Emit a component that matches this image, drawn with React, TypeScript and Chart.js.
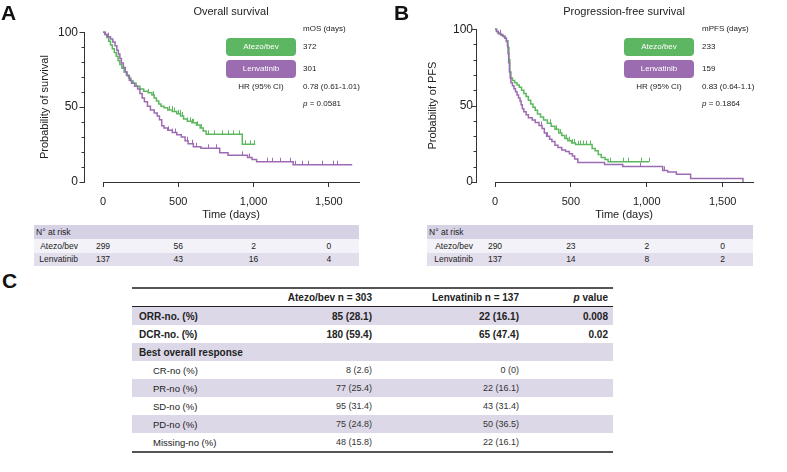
import React, { useEffect, useRef, useState } from "react";
import { Chart, registerables } from "chart.js";
Chart.register(...registerables);

const FONT = '"Liberation Sans", Arial, Helvetica, sans-serif';
const GREEN = "#5CB85E";
const PURPLE = "#9C6BB2";
const BOX_GREEN = "#5DB662";
const BOX_PURPLE = "#9B6DB0";
const LAV = "#DDD8E8";

const xTicks = [0, 500, 1000, 1500];
const yTicks = [0, 50, 100];
const yMinorTicks = [0, 10, 20, 30, 40, 50, 60, 70, 80, 90, 100];
const riskTimes = [0, 500, 1000, 1500];

// ---- Overall survival (time in days, survival %) ----
const osAtezoSteps = [
  [0, 100], [12, 98.5], [25, 96.5], [38, 94], [50, 91.5], [62, 89], [75, 86.5], [88, 84], [100, 81],
  [112, 78.5], [125, 76], [140, 73.5], [155, 71.5], [170, 69.5], [185, 67.5], [200, 66], [220, 64],
  [245, 62], [270, 60.5], [300, 59.5], [325, 58], [340, 56], [355, 54], [370, 52], [385, 50.5],
  [405, 49.5], [430, 48], [460, 47], [490, 45.5], [515, 44], [535, 42], [560, 40.5], [590, 39.5],
  [620, 38], [645, 36], [665, 34], [685, 31.8], [925, 25.2], [1011, 25.2],
];
const osAtezoCensor = [300, 330, 440, 455, 470, 500, 510, 525, 560, 575, 590, 600, 625, 650, 700, 740, 790, 830, 860, 900, 945, 975, 1005];
const osLenvaSteps = [
  [0, 100], [15, 98.5], [30, 97], [50, 95.5], [65, 93.5], [80, 91], [92, 88], [102, 85.5], [112, 82.5],
  [122, 79.5], [135, 76.5], [148, 73.5], [160, 71], [175, 68], [190, 66], [210, 64], [230, 62],
  [245, 59], [260, 56], [275, 53.5], [295, 50.5], [315, 48], [340, 46], [360, 44], [375, 41.5],
  [390, 37.5], [405, 36], [430, 34.5], [460, 33], [490, 31.5], [520, 30], [545, 27.5], [565, 25.5],
  [600, 23.5], [650, 22.5], [775, 19.5], [830, 17.8], [960, 16.4], [990, 15], [1020, 13.5],
  [1263, 11.5], [1655, 11.5],
];
const osLenvaCensor = [35, 430, 460, 480, 560, 590, 620, 700, 750, 920, 970, 1087, 1120, 1175, 1241, 1275, 1320, 1362, 1453, 1529, 1553];
const osRiskAtezo = [299, 56, 2, 0];
const osRiskLenva = [137, 43, 16, 4];

// ---- Progression-free survival ----
const pfsAtezoSteps = [
  [0, 100], [10, 98.5], [20, 97.5], [35, 96.5], [50, 95.5], [65, 94], [75, 92.5], [85, 88], [92, 80],
  [98, 72], [105, 68], [115, 66.5], [130, 65], [145, 63.5], [160, 62], [175, 60], [190, 58],
  [205, 56], [220, 53.5], [235, 51], [250, 49], [265, 47], [280, 44.5], [300, 42.5], [320, 40.5],
  [345, 38.5], [370, 36.5], [395, 34.5], [420, 32], [440, 30.5], [460, 28.5], [480, 27], [505, 25.5],
  [530, 24.5], [640, 22], [660, 20.5], [680, 18], [700, 16], [725, 14.8], [745, 13.3], [1015, 13.3],
];
const pfsAtezoCensor = [360, 400, 430, 470, 490, 510, 520, 545, 560, 580, 600, 625, 760, 842, 875, 965, 1015];
const pfsLenvaSteps = [
  [0, 100], [10, 98.5], [22, 97], [40, 96], [55, 95], [66, 94], [75, 92], [82, 89], [86, 84], [90, 78],
  [95, 72], [100, 68], [105, 65], [115, 63], [125, 61], [135, 59], [145, 57], [155, 55], [165, 53],
  [172, 50.5], [180, 48], [190, 46], [205, 44], [220, 42], [245, 40.5], [265, 39], [290, 37],
  [310, 35], [325, 32], [340, 30], [360, 28], [375, 26.5], [395, 24], [415, 22.5], [440, 21],
  [465, 20], [490, 18.5], [510, 17], [525, 15], [546, 12.8], [722, 11.4], [842, 10.1], [1105, 7.6],
  [1138, 6.5], [1195, 5.1], [1289, 2.3], [1634, 0],
];
const pfsLenvaCensor = [30, 300, 340, 958, 1112];
const pfsRiskAtezo = [290, 23, 2, 0];
const pfsRiskLenva = [137, 14, 8, 2];

// ---- Response table ----
const respLabels = ["CR-no (%)", "PR-no (%)", "SD-no (%)", "PD-no (%)", "Missing-no (%)"];
const respAtezoN = [8, 77, 95, 75, 48];
const respAtezoPct = ["2.6", "25.4", "31.4", "24.8", "15.8"];
const respLenvaN = [0, 22, 43, 50, 22];
const respLenvaPct = ["0", "16.1", "31.4", "36.5", "16.1"];
const summaryLabels = ["ORR-no. (%)", "DCR-no. (%)"];
const summaryAtezo = ["85 (28.1)", "180 (59.4)"];
const summaryLenva = ["22 (16.1)", "65 (47.4)"];
const summaryP = ["0.008", "0.02"];

function survAt(steps: number[][], t: number) {
  let s = steps[0][1];
  for (const [tt, ss] of steps) {
    if (tt <= t) s = ss;
    else break;
  }
  return s;
}

const kmPlugin = {
  id: "kmDecor",
  afterDatasetsDraw(chart: any) {
    const { ctx, scales, chartArea } = chart;
    const x = scales.x, y = scales.y;
    ctx.save();
    chart.data.datasets.forEach((ds: any) => {
      ctx.strokeStyle = ds.borderColor;
      ctx.lineWidth = 1;
      ctx.beginPath();
      (ds.censor || []).forEach((t: number) => {
        const px = Math.round(x.getPixelForValue(t)) + 0.5;
        const py = y.getPixelForValue(survAt(ds.steps, t));
        ctx.moveTo(px, py);
        ctx.lineTo(px, py - 4);
      });
      ctx.stroke();
    });
    const ax = Math.round(chartArea.left - 19) + 0.5;
    ctx.strokeStyle = "#333";
    ctx.lineWidth = 1;
    ctx.beginPath();
    ctx.moveTo(ax, Math.round(y.getPixelForValue(100)));
    ctx.lineTo(ax, Math.round(y.getPixelForValue(0)) + 1);
    yMinorTicks.forEach((v) => {
      const py = Math.round(y.getPixelForValue(v)) + 0.5;
      const len = v % 50 === 0 ? 5 : 3;
      ctx.moveTo(ax - len, py);
      ctx.lineTo(ax, py);
    });
    ctx.stroke();
    ctx.restore();
  },
};

type Series = { label: string; color: string; box: string; steps: number[][]; censor: number[]; risk: number[]; median: string };
type PanelProps = {
  left: number; title: string; yTitle: string; yTitleX: number; chartLeft: number; chartRight: number;
  series: Series[]; medHeader: string; hr: string; p: string; boxLeft: number; textLeft: number;
  tableLeft: number; tableRight: number;
};

const CW = 392, CH = 222;

function KMPanel(props: PanelProps) {
  const ref = useRef<HTMLCanvasElement>(null);
  const [cols, setCols] = useState<number[]>([]);
  useEffect(() => {
    const chart = new Chart(ref.current as HTMLCanvasElement, {
      type: "line",
      data: {
        datasets: props.series.slice().reverse().map((s) => ({
          label: s.label,
          data: s.steps.map(([x, y]) => ({ x, y })),
          steps: s.steps,
          censor: s.censor,
          borderColor: s.color,
          borderWidth: 1.5,
          pointRadius: 0,
          stepped: "before",
          fill: false,
          clip: false,
        })) as any,
      },
      options: {
        responsive: false,
        animation: false,
        layout: { padding: { top: 24, right: CW - props.chartRight, left: 0, bottom: 0 } },
        plugins: { legend: { display: false }, tooltip: { enabled: false }, title: { display: false } },
        scales: {
          x: {
            type: "linear",
            min: 0,
            max: 1700,
            afterBuildTicks: (s: any) => { s.ticks = xTicks.map((v) => ({ value: v })); },
            afterFit: (s: any) => { s.height = 40; },
            border: { display: true, color: "#333", width: 1 },
            grid: { drawOnChartArea: false, drawTicks: true, tickLength: 5, color: "#333" },
            ticks: {
              font: { family: FONT, size: 11 }, color: "#222", padding: 8, maxRotation: 0,
              callback: (v: any) => Number(v).toLocaleString("en-US"),
            },
            title: { display: true, text: "Time (days)", font: { family: FONT, size: 11 }, color: "#222", padding: { top: 0, bottom: 0 } },
          },
          y: {
            min: 0,
            max: 100,
            afterBuildTicks: (s: any) => { s.ticks = yTicks.map((v) => ({ value: v })); },
            afterFit: (s: any) => { s.width = props.chartLeft; },
            border: { display: false },
            grid: { display: false, drawTicks: false },
            ticks: { font: { family: FONT, size: 12 }, color: "#222", padding: props.chartLeft - 78, callback: (v: any) => String(v) },
            title: { display: true, text: props.yTitle, font: { family: FONT, size: 11 }, color: "#222", padding: { top: props.yTitleX - 6.6, bottom: 0 } },
          },
        },
      } as any,
      plugins: [kmPlugin],
    });
    const xs = chart.scales.x;
    setCols(riskTimes.map((t) => xs.getPixelForValue(t)));
    return () => chart.destroy();
  }, []);

  const txt = (top: number, left: number, content: any, extra: any = {}) => (
    <div style={{ position: "absolute", top: top - 6, left, height: 12, lineHeight: "12px", fontSize: 8, whiteSpace: "nowrap", color: "#222", ...extra }}>{content}</div>
  );
  const boxW = 70;
  const tblW = props.tableRight - props.tableLeft;
  const rowTops = [225, 239, 253];
  const rowHs = [14, 14, 13];
  const rowBgs = ["#D6D1E5", "#F3F2F8", "#E2DEEC"];

  return (
    <div style={{ position: "absolute", left: props.left, top: 0, width: CW, height: 270 }}>
      <canvas ref={ref} width={CW} height={CH} style={{ position: "absolute", left: 0, top: 0, width: CW, height: CH, display: "block" }} />
      <div style={{ position: "absolute", top: 4, left: props.chartLeft, width: props.chartRight - props.chartLeft, textAlign: "center", fontSize: 11, lineHeight: "14px", color: "#222" }}>{props.title}</div>
      {txt(29, props.textLeft, props.medHeader)}
      {props.series.map((s, i) => (
        <React.Fragment key={s.label}>
          <div style={{ position: "absolute", left: props.boxLeft, top: 38 + i * 22, width: boxW, height: 17.5, borderRadius: 4, background: s.box, color: "#fff", fontSize: 8, lineHeight: "17.5px", textAlign: "center" }}>{s.label}</div>
          {txt(46.5 + i * 22, props.textLeft, s.median)}
        </React.Fragment>
      ))}
      {txt(87, props.boxLeft, "HR (95% CI)", { width: boxW, textAlign: "center" })}
      {txt(87, props.textLeft, props.hr)}
      {txt(103.5, props.textLeft, <span><i>p</i> = {props.p}</span>)}
      {rowTops.map((t, r) => (
        <div key={r} style={{ position: "absolute", left: props.tableLeft, top: t, width: tblW, height: rowHs[r], background: rowBgs[r] }} />
      ))}
      <div style={{ position: "absolute", left: props.tableLeft + 2, top: rowTops[0], height: rowHs[0], lineHeight: rowHs[0] + "px", fontSize: 8.5, color: "#222" }}>N° at risk</div>
      {props.series.map((s, i) => (
        <React.Fragment key={"r" + s.label}>
          <div style={{ position: "absolute", right: CW - 78, top: rowTops[i + 1], height: rowHs[i + 1], lineHeight: rowHs[i + 1] + "px", fontSize: 8.5, color: "#222", whiteSpace: "nowrap" }}>{s.label}</div>
          {cols.map((cx, j) => (
            <div key={j} style={{ position: "absolute", left: cx - 20, width: 40, textAlign: "center", top: rowTops[i + 1], height: rowHs[i + 1], lineHeight: rowHs[i + 1] + "px", fontSize: 8.5, color: "#222" }}>{s.risk[j]}</div>
          ))}
        </React.Fragment>
      ))}
    </div>
  );
}

function ResponseTable() {
  const L = 132, W = 481;
  const c1 = 240, c2 = 387, c3 = 476;
  const rowH = 18;
  const rows: any[] = [];
  summaryLabels.forEach((lab, i) => rows.push({ label: lab, a: summaryAtezo[i], b: summaryLenva[i], p: summaryP[i], bold: true, indent: false }));
  rows.push({ label: "Best overall response", a: "", b: "", p: "", bold: true, indent: false });
  respLabels.forEach((lab, i) => rows.push({ label: lab, a: `${respAtezoN[i]} (${respAtezoPct[i]})`, b: `${respLenvaN[i]} (${respLenvaPct[i]})`, p: "", bold: false, indent: true }));
  const cell = (right: number, content: any, style: any) => (
    <div style={{ position: "absolute", right: W - right, top: 0, height: "100%", display: "flex", alignItems: "center", whiteSpace: "nowrap", ...style }}>{content}</div>
  );
  return (
    <div style={{ position: "absolute", left: L, top: 287, width: W }}>
      <div style={{ height: 2, background: "#555" }} />
      <div style={{ position: "relative", height: 17, borderBottom: "1px solid #222" }}>
        {cell(c1, "Atezo/bev n = 303", { fontWeight: "bold", fontSize: 10 })}
        {cell(c2, "Lenvatinib n = 137", { fontWeight: "bold", fontSize: 10 })}
        {cell(c3, <span><i>p</i> value</span>, { fontWeight: "bold", fontSize: 10 })}
      </div>
      {rows.map((r, i) => (
        <div key={i} style={{ position: "relative", height: rowH, background: i % 2 === 0 ? LAV : "#fff" }}>
          <div style={{ position: "absolute", left: r.indent ? 21 : 7, top: 0, height: "100%", display: "flex", alignItems: "center", fontSize: r.bold ? 10 : 9.5, fontWeight: r.bold ? "bold" : "normal", whiteSpace: "nowrap" }}>{r.label}</div>
          {cell(c1, r.a, { fontWeight: r.bold ? "bold" : "normal", fontSize: r.bold ? 10 : 9, color: r.bold ? "#222" : "#333" })}
          {cell(c2, r.b, { fontWeight: r.bold ? "bold" : "normal", fontSize: r.bold ? 10 : 9, color: r.bold ? "#222" : "#333" })}
          {cell(c3, r.p, { fontWeight: "bold", fontSize: 10 })}
        </div>
      ))}
      <div style={{ height: 2, background: "#555" }} />
    </div>
  );
}

const letter = (left: number, top: number, ch: string) => (
  <div style={{ position: "absolute", left, top, fontSize: 21, lineHeight: "21px", fontWeight: "bold", color: "#111" }}>{ch}</div>
);

export default function App() {
  return (
    <div style={{ position: "absolute", left: 0, top: 0, width: 787, height: 472, background: "#fff", fontFamily: FONT, color: "#222", overflow: "hidden" }}>
      <KMPanel
        left={0}
        title="Overall survival"
        yTitle="Probability of survival"
        yTitleX={45}
        chartLeft={103}
        chartRight={359}
        medHeader="mOS (days)"
        hr="0.78 (0.61-1.01)"
        p="0.0581"
        boxLeft={226}
        textLeft={303}
        tableLeft={34}
        tableRight={359}
        series={[
          { label: "Atezo/bev", color: GREEN, box: BOX_GREEN, steps: osAtezoSteps, censor: osAtezoCensor, risk: osRiskAtezo, median: "372" },
          { label: "Lenvatinib", color: PURPLE, box: BOX_PURPLE, steps: osLenvaSteps, censor: osLenvaCensor, risk: osRiskLenva, median: "301" },
        ]}
      />
      <KMPanel
        left={395}
        title="Progression-free survival"
        yTitle="Probability of PFS"
        yTitleX={38}
        chartLeft={100}
        chartRight={358}
        medHeader="mPFS (days)"
        hr="0.83 (0.64-1.1)"
        p="0.1864"
        boxLeft={229}
        textLeft={307}
        tableLeft={32}
        tableRight={358}
        series={[
          { label: "Atezo/bev", color: GREEN, box: BOX_GREEN, steps: pfsAtezoSteps, censor: pfsAtezoCensor, risk: pfsRiskAtezo, median: "233" },
          { label: "Lenvatinib", color: PURPLE, box: BOX_PURPLE, steps: pfsLenvaSteps, censor: pfsLenvaCensor, risk: pfsRiskLenva, median: "159" },
        ]}
      />
      <ResponseTable />
      {letter(1, 2, "A")}
      {letter(394, 2, "B")}
      {letter(2, 270, "C")}
    </div>
  );
}
